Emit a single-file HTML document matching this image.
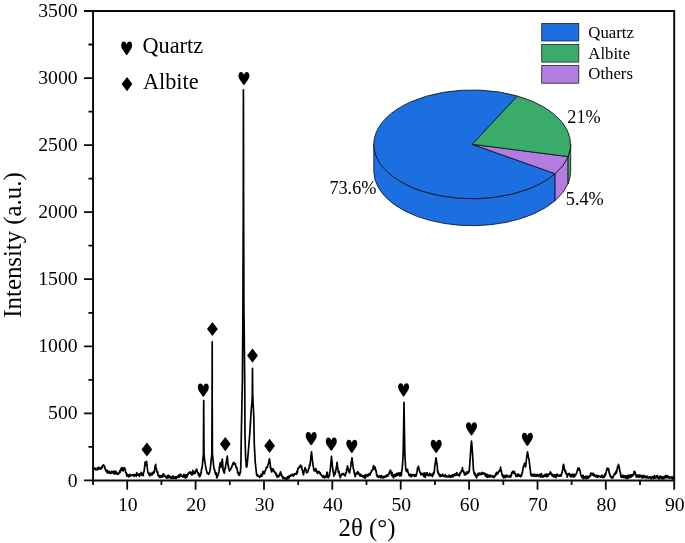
<!DOCTYPE html><html><head><meta charset="utf-8"><title>XRD</title><style>html,body{margin:0;padding:0;background:#fff}svg{display:block}text{font-family:"Liberation Serif",serif;fill:#000}</style></head><body>
<svg width="685" height="543" viewBox="0 0 685 543">
<rect width="685" height="543" fill="#fff"/>
<defs><path id="h" d="M0,6.6 C-0.6,6.6 -1.2,5.5 -2.4,3.6 C-3.6,1.8 -5.5,0 -5.5,-2.7 C-5.5,-5.2 -4.4,-6.6 -3,-6.6 C-1.6,-6.6 -0.5,-5.4 0,-3.6 C0.5,-5.4 1.6,-6.6 3,-6.6 C4.4,-6.6 5.5,-5.2 5.5,-2.7 C5.5,0 3.6,1.8 2.4,3.6 C1.2,5.5 0.6,6.6 0,6.6Z"/><path id="H" d="M0,6.8 C-0.6,6.8 -1.2,5.6 -2.4,3.7 C-3.6,1.9 -5.5,0 -5.5,-2.8 C-5.5,-5.3 -4.4,-6.8 -3,-6.8 C-1.6,-6.8 -0.5,-5.6 0,-3.7 C0.5,-5.6 1.6,-6.8 3,-6.8 C4.4,-6.8 5.5,-5.3 5.5,-2.8 C5.5,0 3.6,1.9 2.4,3.7 C1.2,5.6 0.6,6.8 0,6.8Z"/><path id="d" d="M0,-7.1 L5.4,0 L0,7.1 L-5.4,0Z"/></defs>
<path d="M93.5,468.9 L93.8,468.7 L94.1,469.2 L94.4,468.6 L94.7,468.5 L95.0,468.0 L95.0,468.7 L95.3,468.6 L95.6,469.7 L95.9,469.3 L96.2,469.8 L96.5,469.3 L96.8,469.5 L97.0,469.2 L97.1,469.3 L97.4,467.8 L97.7,469.7 L98.0,469.4 L98.3,469.3 L98.6,467.4 L98.9,467.3 L99.0,468.7 L99.2,468.0 L99.5,468.3 L99.8,468.9 L100.1,468.7 L100.4,469.1 L100.5,468.7 L100.7,467.9 L101.0,468.3 L101.3,468.0 L101.5,467.4 L101.6,466.8 L101.9,468.3 L102.2,467.0 L102.5,467.2 L102.5,466.2 L102.8,465.4 L103.1,465.0 L103.4,464.9 L103.6,465.0 L103.7,465.0 L104.0,466.0 L104.3,466.1 L104.3,465.9 L104.6,466.6 L104.9,467.3 L105.0,468.4 L105.2,468.4 L105.5,470.5 L105.8,469.6 L106.0,470.7 L106.1,471.0 L106.4,471.4 L106.7,470.2 L107.0,471.7 L107.3,473.0 L107.5,472.2 L107.6,470.6 L107.9,472.0 L108.2,472.3 L108.5,471.8 L108.8,472.9 L109.0,472.6 L109.1,472.5 L109.4,471.4 L109.7,473.2 L110.0,473.0 L110.3,473.2 L110.6,473.6 L110.9,472.7 L111.0,472.4 L111.2,472.5 L111.5,471.4 L111.8,473.0 L112.1,472.0 L112.4,472.2 L112.7,471.6 L113.0,471.8 L113.3,472.2 L113.6,473.7 L113.9,471.1 L114.0,472.7 L114.2,471.6 L114.5,473.0 L114.8,474.0 L115.1,473.4 L115.4,471.5 L115.7,471.1 L116.0,473.5 L116.3,472.6 L116.6,472.4 L116.9,474.2 L117.0,473.4 L117.2,474.2 L117.5,473.4 L117.8,473.4 L118.1,473.5 L118.4,474.3 L118.7,473.5 L119.0,473.3 L119.0,472.9 L119.3,472.9 L119.6,470.8 L119.9,472.7 L120.2,472.1 L120.5,471.3 L120.5,470.9 L120.8,468.9 L121.1,469.5 L121.4,470.2 L121.5,469.4 L121.7,467.6 L122.0,468.3 L122.2,468.0 L122.3,469.1 L122.6,467.9 L122.9,471.0 L123.2,470.8 L123.2,470.4 L123.5,469.6 L123.8,469.3 L124.1,468.8 L124.4,467.7 L124.4,467.6 L124.7,469.4 L125.0,468.8 L125.2,469.9 L125.3,469.9 L125.6,472.2 L125.9,472.5 L126.0,472.9 L126.2,472.7 L126.5,474.9 L126.8,476.1 L127.0,475.4 L127.1,475.1 L127.4,474.4 L127.7,475.5 L128.0,475.6 L128.3,475.6 L128.5,475.9 L128.6,477.0 L128.9,474.9 L129.2,476.6 L129.5,474.4 L129.8,474.7 L130.0,475.2 L130.1,475.7 L130.4,476.0 L130.7,475.8 L131.0,475.3 L131.3,475.1 L131.6,475.1 L131.9,475.3 L132.2,474.7 L132.5,475.0 L132.8,475.2 L133.0,474.7 L133.1,474.7 L133.4,475.3 L133.7,475.2 L134.0,476.4 L134.3,475.0 L134.6,474.5 L134.9,474.5 L135.2,474.8 L135.5,475.6 L135.8,474.6 L136.0,474.9 L136.1,475.2 L136.4,476.3 L136.7,472.7 L137.0,473.8 L137.3,474.9 L137.6,475.0 L137.9,474.8 L138.2,474.2 L138.5,475.0 L138.8,474.7 L139.0,474.4 L139.1,474.0 L139.4,476.4 L139.7,474.7 L140.0,474.0 L140.3,474.4 L140.6,474.3 L140.9,474.5 L141.2,472.4 L141.5,474.2 L141.8,475.4 L142.0,474.6 L142.1,473.7 L142.4,474.5 L142.7,475.3 L143.0,475.1 L143.3,475.6 L143.4,474.4 L143.6,472.2 L143.9,471.9 L144.2,470.6 L144.2,470.9 L144.5,468.1 L144.7,465.4 L144.8,466.0 L145.1,462.1 L145.2,463.9 L145.4,465.1 L145.7,463.6 L145.8,464.9 L146.0,464.4 L146.3,462.2 L146.4,461.7 L146.6,461.4 L146.9,464.1 L147.0,464.4 L147.2,467.4 L147.5,469.3 L147.6,470.4 L147.8,471.4 L148.1,473.2 L148.3,473.4 L148.4,473.5 L148.7,473.4 L149.0,474.8 L149.3,474.5 L149.5,473.7 L149.6,473.5 L149.9,476.0 L150.2,473.0 L150.5,474.7 L150.8,473.9 L151.1,474.3 L151.4,474.8 L151.7,474.5 L152.0,474.9 L152.0,474.4 L152.3,472.9 L152.6,472.6 L152.9,474.0 L153.2,472.4 L153.5,472.1 L153.8,471.4 L154.0,472.4 L154.1,472.9 L154.4,471.0 L154.7,470.1 L155.0,466.6 L155.3,465.9 L155.5,464.9 L155.6,464.4 L155.9,467.2 L156.2,469.2 L156.5,468.5 L156.8,471.8 L157.0,471.4 L157.1,472.5 L157.4,472.5 L157.7,471.9 L158.0,475.5 L158.3,475.2 L158.5,475.9 L158.6,475.4 L158.9,476.3 L159.2,476.4 L159.5,477.3 L159.8,475.3 L160.1,477.1 L160.4,477.5 L160.7,477.5 L161.0,476.3 L161.0,476.4 L161.3,475.7 L161.6,477.0 L161.9,476.2 L162.2,476.1 L162.5,477.0 L162.8,475.6 L163.1,473.9 L163.4,475.3 L163.7,474.0 L164.0,476.1 L164.0,475.4 L164.3,475.8 L164.6,475.2 L164.9,475.8 L165.2,476.7 L165.5,476.2 L165.8,477.4 L166.1,476.4 L166.4,477.4 L166.7,477.9 L167.0,478.2 L167.0,476.9 L167.3,476.4 L167.6,477.6 L167.9,475.4 L168.2,476.0 L168.5,475.3 L168.8,477.8 L169.1,475.9 L169.4,476.9 L169.7,476.7 L170.0,476.9 L170.0,476.9 L170.3,476.5 L170.6,477.2 L170.9,478.5 L171.2,477.1 L171.5,477.6 L171.8,478.0 L172.1,477.1 L172.4,476.3 L172.7,476.9 L173.0,478.3 L173.0,477.4 L173.3,476.1 L173.6,477.0 L173.9,478.4 L174.2,478.2 L174.5,477.7 L174.8,478.3 L175.1,477.9 L175.4,476.9 L175.7,476.6 L176.0,477.4 L176.0,477.9 L176.3,478.5 L176.6,477.2 L176.9,476.9 L177.2,476.9 L177.5,476.2 L177.8,477.2 L178.1,476.3 L178.4,477.4 L178.7,475.1 L179.0,477.2 L179.0,476.9 L179.3,476.2 L179.6,474.9 L179.9,476.8 L180.2,475.8 L180.5,474.0 L180.8,474.8 L181.0,475.4 L181.1,475.7 L181.4,475.1 L181.7,476.2 L182.0,476.2 L182.3,476.3 L182.6,476.1 L182.9,476.9 L183.0,475.9 L183.2,476.5 L183.5,476.4 L183.8,474.4 L184.1,476.9 L184.4,477.3 L184.7,476.1 L185.0,476.0 L185.0,476.4 L185.3,477.8 L185.6,474.7 L185.9,476.3 L186.2,477.7 L186.5,474.9 L186.8,476.1 L187.0,475.4 L187.1,476.8 L187.4,474.8 L187.7,475.0 L188.0,474.8 L188.3,473.0 L188.6,473.3 L188.9,473.2 L189.2,473.2 L189.5,472.2 L189.5,472.2 L189.8,472.3 L190.1,471.9 L190.4,472.6 L190.7,473.9 L191.0,473.5 L191.0,473.4 L191.3,472.6 L191.6,472.4 L191.9,475.1 L192.2,473.7 L192.5,473.2 L192.8,470.4 L193.0,472.4 L193.1,472.9 L193.4,472.9 L193.7,473.9 L194.0,473.0 L194.3,472.7 L194.6,473.2 L194.9,471.3 L195.0,472.9 L195.2,473.2 L195.5,471.9 L195.8,470.3 L196.1,471.2 L196.4,470.8 L196.4,469.4 L196.7,469.1 L197.0,470.5 L197.3,472.1 L197.5,472.4 L197.6,472.7 L197.9,472.6 L198.2,472.6 L198.5,475.5 L198.8,475.0 L199.1,473.6 L199.4,473.9 L199.7,476.8 L199.7,475.4 L200.0,475.7 L200.3,475.9 L200.6,474.7 L200.9,472.9 L201.0,473.4 L201.2,472.6 L201.5,469.2 L201.8,468.8 L202.0,468.4 L202.1,467.4 L202.4,464.8 L202.6,462.4 L202.7,461.4 L203.0,458.4 L203.3,455.4 L203.4,454.4 L203.6,418.4 L203.7,400.6 L203.9,436.2 L204.0,454.4 L204.2,456.2 L204.5,458.8 L204.8,461.5 L204.9,462.4 L205.1,462.9 L205.4,465.0 L205.7,467.1 L206.0,468.7 L206.0,468.4 L206.3,470.1 L206.6,471.0 L206.9,471.7 L207.0,472.4 L207.2,473.3 L207.5,473.1 L207.8,472.8 L208.1,473.4 L208.4,474.3 L208.5,474.4 L208.7,473.9 L209.0,473.6 L209.3,472.9 L209.6,472.5 L209.6,472.4 L209.9,470.7 L210.2,468.3 L210.3,468.8 L210.5,467.0 L210.8,464.3 L210.9,462.4 L211.1,460.7 L211.4,458.2 L211.7,455.7 L211.8,454.4 L212.0,418.8 L212.1,400.0 L212.2,341.8 L212.2,400.0 L212.3,418.8 L212.4,454.4 L212.6,455.8 L212.9,458.6 L213.2,461.5 L213.3,462.4 L213.5,464.6 L213.8,466.8 L214.0,468.8 L214.1,469.5 L214.4,469.5 L214.7,469.8 L215.0,472.4 L215.0,472.4 L215.3,472.3 L215.6,474.4 L215.9,473.6 L216.2,473.0 L216.5,475.0 L216.8,477.8 L217.1,476.9 L217.2,477.4 L217.4,475.7 L217.7,475.3 L218.0,475.4 L218.3,474.4 L218.5,473.4 L218.6,472.9 L218.9,471.9 L219.2,469.3 L219.5,466.7 L219.8,465.2 L220.1,464.0 L220.1,462.7 L220.4,465.0 L220.7,466.7 L221.0,466.5 L221.0,467.4 L221.3,465.4 L221.6,464.2 L221.9,461.7 L222.2,459.7 L222.3,459.1 L222.5,461.8 L222.8,465.5 L223.0,468.4 L223.1,469.7 L223.4,470.5 L223.7,471.9 L224.0,472.2 L224.0,472.4 L224.3,473.2 L224.6,471.0 L224.9,468.6 L225.2,467.7 L225.5,468.5 L225.5,466.4 L225.8,464.4 L226.1,463.7 L226.4,461.3 L226.7,459.6 L227.0,457.9 L227.3,456.2 L227.3,456.2 L227.6,459.6 L227.9,463.8 L228.2,466.4 L228.2,466.4 L228.5,466.4 L228.8,468.4 L229.1,469.5 L229.4,471.0 L229.5,470.4 L229.7,470.8 L230.0,469.8 L230.3,470.0 L230.6,469.4 L230.9,468.7 L231.0,468.4 L231.2,468.0 L231.5,467.2 L231.8,467.3 L232.1,465.4 L232.4,465.1 L232.7,465.0 L233.0,463.2 L233.0,464.4 L233.3,463.8 L233.6,462.4 L233.9,463.2 L234.2,464.0 L234.5,463.8 L234.7,463.2 L234.8,463.4 L235.1,463.9 L235.4,463.7 L235.7,467.0 L236.0,466.6 L236.3,467.8 L236.5,467.4 L236.6,467.1 L236.9,468.9 L237.2,468.7 L237.5,472.0 L237.8,473.3 L238.0,473.4 L238.1,472.0 L238.4,473.9 L238.7,474.8 L239.0,473.3 L239.3,473.7 L239.5,475.4 L239.6,474.2 L239.9,473.7 L240.2,472.2 L240.5,472.4 L240.5,472.4 L240.8,465.8 L240.9,463.4 L241.1,449.4 L241.3,435.0 L241.4,430.0 L241.7,415.0 L242.0,400.0 L242.0,400.0 L242.3,385.0 L242.4,380.0 L242.6,352.0 L242.9,310.0 L242.9,310.0 L243.2,227.5 L243.3,200.0 L243.4,89.8 L243.5,126.5 L243.6,200.0 L243.8,262.9 L243.9,310.0 L244.1,324.0 L244.4,352.0 L244.7,380.0 L244.7,380.0 L245.0,435.0 L245.0,435.0 L245.3,446.6 L245.5,454.1 L245.6,455.9 L245.9,461.4 L245.9,461.4 L246.2,465.3 L246.4,467.0 L246.5,467.2 L246.8,466.6 L247.1,465.1 L247.3,463.3 L247.4,462.2 L247.7,458.7 L248.0,455.3 L248.3,451.8 L248.6,448.4 L248.6,448.4 L248.9,444.5 L249.2,440.9 L249.5,437.4 L249.7,435.0 L249.8,433.4 L250.1,428.5 L250.4,423.6 L250.5,422.0 L250.7,418.6 L251.0,413.4 L251.2,410.0 L251.3,409.0 L251.6,406.0 L251.9,403.0 L252.0,402.0 L252.2,397.4 L252.3,394.0 L252.5,368.3 L252.5,368.3 L252.7,394.0 L252.8,396.2 L253.1,402.8 L253.2,405.0 L253.4,408.9 L253.7,414.8 L253.8,416.8 L254.0,427.9 L254.3,444.5 L254.3,444.5 L254.6,450.4 L254.9,455.9 L255.2,461.5 L255.3,463.3 L255.5,464.1 L255.8,467.5 L256.1,469.9 L256.4,472.6 L256.5,474.4 L256.7,474.6 L257.0,475.1 L257.3,475.9 L257.6,474.6 L257.9,475.3 L258.0,476.4 L258.2,476.4 L258.5,476.4 L258.8,476.4 L259.1,476.6 L259.4,476.1 L259.7,477.4 L260.0,477.2 L260.0,476.9 L260.3,476.7 L260.6,476.1 L260.9,476.3 L261.2,474.1 L261.5,475.4 L261.8,476.0 L262.0,475.9 L262.1,474.3 L262.4,474.7 L262.7,473.6 L263.0,471.3 L263.0,472.4 L263.3,472.4 L263.6,472.5 L263.9,473.4 L264.2,473.7 L264.5,473.4 L264.5,473.4 L264.8,471.7 L265.1,471.3 L265.4,470.3 L265.7,470.0 L266.0,468.6 L266.0,468.4 L266.3,467.6 L266.6,466.9 L266.9,467.5 L267.2,467.0 L267.5,466.5 L267.5,467.4 L267.8,466.1 L268.1,464.6 L268.4,463.9 L268.5,463.4 L268.7,462.9 L269.0,461.2 L269.3,459.8 L269.5,458.9 L269.6,459.6 L269.9,461.9 L270.2,463.8 L270.5,468.3 L270.5,466.4 L270.8,467.6 L271.1,470.3 L271.4,471.0 L271.5,471.4 L271.7,472.0 L272.0,468.8 L272.3,469.6 L272.6,470.0 L272.9,469.8 L273.2,470.8 L273.2,468.9 L273.5,469.7 L273.8,471.1 L274.1,471.3 L274.4,472.0 L274.7,472.2 L275.0,472.3 L275.0,472.4 L275.3,473.3 L275.6,472.5 L275.9,474.8 L276.2,473.6 L276.5,475.1 L276.5,474.9 L276.8,476.9 L277.1,475.3 L277.4,475.8 L277.7,477.0 L278.0,476.4 L278.3,476.1 L278.5,476.9 L278.6,476.9 L278.9,476.4 L279.2,475.7 L279.5,473.8 L279.8,475.1 L280.1,474.2 L280.4,472.2 L280.5,471.9 L280.7,472.7 L281.0,473.1 L281.3,475.4 L281.6,474.6 L281.9,476.6 L282.0,476.4 L282.2,476.2 L282.5,476.2 L282.8,477.6 L283.1,478.3 L283.4,477.4 L283.7,477.1 L284.0,478.5 L284.0,477.9 L284.3,478.0 L284.6,478.4 L284.9,479.0 L285.2,479.0 L285.5,478.2 L285.8,479.0 L286.0,478.9 L286.1,478.9 L286.4,479.0 L286.7,478.0 L287.0,478.4 L287.3,476.9 L287.6,479.0 L287.9,479.0 L288.0,477.9 L288.2,476.8 L288.5,476.3 L288.8,476.0 L289.1,478.0 L289.4,476.5 L289.7,476.6 L290.0,476.1 L290.0,476.4 L290.3,476.2 L290.6,475.2 L290.9,476.0 L291.2,474.6 L291.5,475.6 L291.8,475.7 L292.1,475.7 L292.4,475.0 L292.7,474.3 L293.0,475.0 L293.0,474.9 L293.3,474.4 L293.6,476.0 L293.9,475.2 L294.2,474.4 L294.5,474.0 L294.8,473.7 L295.1,473.5 L295.4,473.8 L295.7,474.2 L296.0,474.3 L296.0,473.9 L296.3,473.7 L296.6,474.2 L296.9,471.3 L297.2,471.2 L297.5,472.8 L297.8,468.4 L298.0,469.4 L298.1,468.8 L298.4,468.7 L298.7,468.1 L299.0,467.7 L299.3,466.6 L299.5,466.4 L299.6,466.7 L299.9,466.5 L300.2,467.2 L300.5,465.1 L300.8,466.0 L301.1,466.8 L301.4,466.0 L301.5,466.9 L301.7,466.8 L302.0,469.3 L302.3,469.4 L302.6,471.5 L302.9,472.7 L303.2,473.5 L303.5,474.8 L303.5,474.4 L303.8,473.0 L304.1,470.7 L304.4,470.5 L304.7,469.6 L305.0,467.5 L305.0,467.9 L305.3,468.5 L305.6,469.8 L305.9,469.2 L306.2,471.1 L306.5,472.8 L306.8,471.5 L307.0,472.4 L307.1,472.3 L307.4,471.5 L307.7,472.2 L308.0,470.7 L308.3,470.5 L308.6,468.6 L308.9,468.6 L309.0,468.4 L309.2,467.5 L309.5,464.7 L309.8,465.9 L310.1,464.0 L310.3,462.4 L310.4,461.5 L310.7,458.9 L311.0,456.2 L311.3,453.6 L311.5,451.8 L311.6,452.8 L311.9,455.7 L312.2,458.6 L312.5,461.5 L312.7,463.4 L312.8,462.5 L313.1,466.1 L313.4,467.1 L313.7,469.1 L314.0,470.7 L314.0,470.4 L314.3,469.0 L314.6,469.8 L314.9,471.0 L315.2,469.1 L315.5,468.6 L315.5,469.4 L315.8,468.7 L316.1,469.2 L316.4,470.9 L316.7,472.4 L317.0,471.7 L317.0,471.4 L317.3,471.7 L317.6,473.5 L317.9,471.4 L318.2,471.5 L318.5,472.6 L318.8,472.7 L319.0,472.4 L319.1,471.7 L319.4,471.9 L319.7,473.4 L320.0,473.8 L320.3,472.9 L320.6,474.1 L320.9,474.2 L321.2,475.3 L321.5,475.2 L321.8,475.6 L322.0,475.9 L322.1,475.6 L322.4,476.8 L322.7,477.2 L323.0,475.9 L323.3,476.9 L323.6,475.7 L323.9,476.4 L324.0,476.4 L324.2,477.1 L324.5,477.9 L324.8,476.5 L325.1,476.9 L325.4,477.3 L325.7,476.1 L326.0,477.4 L326.0,477.4 L326.3,475.5 L326.6,475.0 L326.9,472.4 L327.0,472.9 L327.2,472.2 L327.5,475.2 L327.8,476.7 L328.0,477.4 L328.1,476.8 L328.4,477.6 L328.7,476.2 L329.0,475.6 L329.3,476.0 L329.5,475.4 L329.6,473.3 L329.9,471.7 L330.2,469.8 L330.5,468.1 L330.5,467.4 L330.8,464.0 L331.1,460.8 L331.4,457.5 L331.5,456.4 L331.7,458.6 L332.0,461.9 L332.3,465.4 L332.5,467.4 L332.6,467.4 L332.9,469.8 L333.2,472.5 L333.5,472.2 L333.8,476.2 L334.0,475.4 L334.1,474.7 L334.4,474.6 L334.7,474.1 L335.0,474.2 L335.3,471.8 L335.5,472.4 L335.6,470.1 L335.9,470.2 L336.2,468.4 L336.5,466.2 L336.8,465.8 L337.0,462.4 L337.1,463.2 L337.4,465.3 L337.7,467.8 L338.0,469.4 L338.3,472.4 L338.5,472.4 L338.6,471.7 L338.9,473.2 L339.2,471.5 L339.5,475.7 L339.8,475.6 L340.0,476.4 L340.1,477.0 L340.4,477.7 L340.7,475.7 L341.0,475.2 L341.3,474.7 L341.5,474.9 L341.6,474.1 L341.9,474.0 L342.2,474.7 L342.5,473.9 L342.8,473.7 L343.0,473.4 L343.1,473.4 L343.4,474.5 L343.7,474.5 L344.0,474.3 L344.3,475.2 L344.6,474.9 L344.9,474.4 L345.0,475.4 L345.2,476.0 L345.5,474.4 L345.8,472.5 L346.1,473.3 L346.4,471.9 L346.5,471.4 L346.7,469.0 L347.0,469.9 L347.3,467.3 L347.5,465.9 L347.6,467.1 L347.9,467.9 L348.2,468.9 L348.5,469.2 L348.5,470.4 L348.8,471.9 L349.1,471.9 L349.4,472.4 L349.5,472.9 L349.7,472.2 L350.0,470.5 L350.3,469.4 L350.6,467.1 L350.8,466.4 L350.9,465.7 L351.2,461.9 L351.5,461.4 L351.8,459.3 L352.0,457.9 L352.1,458.7 L352.4,461.1 L352.7,463.1 L353.0,466.4 L353.2,467.4 L353.3,468.9 L353.6,468.9 L353.9,470.4 L354.2,473.1 L354.5,472.9 L354.8,475.1 L355.0,475.4 L355.1,476.6 L355.4,474.9 L355.7,475.4 L356.0,473.4 L356.3,473.7 L356.6,473.1 L356.9,472.8 L357.2,473.2 L357.5,473.8 L357.5,471.9 L357.8,471.8 L358.1,472.3 L358.4,473.6 L358.7,472.7 L359.0,474.4 L359.3,474.9 L359.6,474.6 L359.9,475.7 L360.0,475.4 L360.2,474.2 L360.5,476.1 L360.8,474.3 L361.1,475.1 L361.4,475.2 L361.7,475.4 L362.0,476.5 L362.3,475.9 L362.5,475.9 L362.6,475.6 L362.9,476.4 L363.2,477.3 L363.5,476.1 L363.8,476.5 L364.1,477.2 L364.4,476.5 L364.7,475.3 L365.0,478.4 L365.0,476.4 L365.3,478.0 L365.6,474.6 L365.9,476.0 L366.2,476.3 L366.5,476.6 L366.8,476.2 L367.1,475.3 L367.4,474.6 L367.5,475.4 L367.7,475.4 L368.0,476.1 L368.3,474.4 L368.6,474.4 L368.9,475.1 L369.2,473.5 L369.5,474.8 L369.8,474.6 L370.0,474.9 L370.1,475.0 L370.4,473.4 L370.7,472.6 L371.0,472.3 L371.3,471.8 L371.5,471.4 L371.6,470.6 L371.9,470.5 L372.2,470.4 L372.5,470.0 L372.8,469.7 L373.0,467.9 L373.1,467.2 L373.4,467.5 L373.7,465.7 L374.0,469.2 L374.3,467.0 L374.6,467.5 L374.9,467.8 L375.0,467.4 L375.2,467.1 L375.5,469.8 L375.8,470.6 L376.0,471.4 L376.1,470.4 L376.4,473.4 L376.7,475.5 L377.0,474.4 L377.0,475.9 L377.3,476.6 L377.6,476.2 L377.9,476.4 L378.2,476.5 L378.5,477.2 L378.8,476.0 L379.1,476.9 L379.4,476.0 L379.7,476.9 L380.0,475.7 L380.0,476.4 L380.3,476.4 L380.6,477.9 L380.9,476.9 L381.2,476.5 L381.5,475.7 L381.8,476.1 L382.1,476.9 L382.4,477.6 L382.7,477.2 L383.0,477.3 L383.0,476.9 L383.3,476.8 L383.6,477.9 L383.9,476.4 L384.2,476.3 L384.5,477.4 L384.8,476.7 L385.1,476.3 L385.4,476.0 L385.7,476.2 L386.0,476.9 L386.0,476.4 L386.3,476.5 L386.6,475.1 L386.9,476.3 L387.2,475.9 L387.5,474.8 L387.8,476.1 L388.0,475.4 L388.1,475.0 L388.4,474.3 L388.7,474.6 L389.0,474.5 L389.3,472.2 L389.5,472.4 L389.6,472.6 L389.9,470.9 L390.2,472.9 L390.5,470.0 L390.5,470.4 L390.8,472.3 L391.1,471.7 L391.4,473.7 L391.5,473.4 L391.7,475.6 L392.0,472.4 L392.3,474.7 L392.6,476.0 L392.9,476.1 L393.0,476.4 L393.2,475.8 L393.5,477.9 L393.8,476.1 L394.1,474.6 L394.4,476.5 L394.7,474.3 L395.0,476.5 L395.3,475.0 L395.5,475.4 L395.6,475.5 L395.9,476.2 L396.2,475.1 L396.5,473.7 L396.8,473.3 L397.1,475.4 L397.4,474.9 L397.7,473.4 L398.0,474.6 L398.0,473.9 L398.3,474.5 L398.6,474.9 L398.9,472.8 L399.2,474.6 L399.5,475.7 L399.8,475.8 L400.0,475.4 L400.1,476.0 L400.4,472.9 L400.7,474.6 L401.0,474.5 L401.3,475.7 L401.5,473.4 L401.6,471.9 L401.9,470.3 L402.2,468.4 L402.2,468.4 L402.5,464.8 L402.8,459.7 L403.1,455.4 L403.1,455.4 L403.4,440.0 L403.6,430.0 L403.7,423.1 L404.0,402.4 L404.0,402.4 L404.3,423.1 L404.4,430.0 L404.6,440.0 L404.9,455.4 L404.9,455.4 L405.2,460.3 L405.5,464.8 L405.7,468.4 L405.8,469.7 L406.1,469.3 L406.4,471.2 L406.5,471.4 L406.7,470.8 L407.0,471.0 L407.3,470.0 L407.5,470.4 L407.6,469.4 L407.9,472.5 L408.2,472.7 L408.5,473.0 L408.8,474.5 L409.0,474.9 L409.1,475.7 L409.4,474.3 L409.7,475.2 L410.0,475.8 L410.3,476.0 L410.6,475.4 L410.9,474.2 L411.0,475.9 L411.2,476.8 L411.5,476.0 L411.8,475.7 L412.1,475.4 L412.4,475.8 L412.7,475.1 L413.0,474.6 L413.0,475.4 L413.3,474.9 L413.6,475.1 L413.9,475.1 L414.2,474.8 L414.5,476.3 L414.8,474.8 L415.0,475.9 L415.1,476.3 L415.4,474.7 L415.7,475.5 L416.0,476.0 L416.3,474.8 L416.5,474.4 L416.6,473.3 L416.9,472.4 L417.2,471.0 L417.5,468.0 L417.5,469.4 L417.8,468.0 L418.1,467.7 L418.4,466.3 L418.5,466.4 L418.7,467.3 L419.0,469.0 L419.3,470.2 L419.5,470.4 L419.6,471.4 L419.9,472.1 L420.2,472.3 L420.5,473.4 L420.8,474.1 L421.0,474.9 L421.1,474.6 L421.4,474.7 L421.7,473.3 L422.0,474.4 L422.3,474.6 L422.6,473.7 L422.9,474.4 L423.0,474.4 L423.2,474.9 L423.5,474.5 L423.8,476.5 L424.1,472.9 L424.4,474.9 L424.7,473.8 L425.0,476.2 L425.0,475.4 L425.3,477.4 L425.6,473.1 L425.9,475.1 L426.2,475.2 L426.5,474.4 L426.8,474.9 L427.0,474.4 L427.1,472.7 L427.4,475.3 L427.7,475.0 L428.0,474.9 L428.3,474.6 L428.6,475.7 L428.9,475.0 L429.0,475.4 L429.2,475.5 L429.5,474.9 L429.8,473.4 L430.1,475.1 L430.4,475.2 L430.7,475.6 L431.0,474.2 L431.0,474.9 L431.3,474.9 L431.6,475.4 L431.9,475.0 L432.2,475.9 L432.5,476.5 L432.8,474.2 L433.0,474.9 L433.1,473.1 L433.4,474.5 L433.7,474.2 L434.0,472.9 L434.3,472.1 L434.3,471.4 L434.6,468.2 L434.9,465.5 L435.2,464.1 L435.2,463.4 L435.5,461.3 L435.8,459.3 L436.0,457.9 L436.1,458.6 L436.4,460.6 L436.7,462.0 L436.8,463.4 L437.0,463.5 L437.3,466.5 L437.6,471.6 L437.7,470.4 L437.9,472.8 L438.2,472.0 L438.5,473.3 L438.5,473.9 L438.8,474.4 L439.1,473.9 L439.4,475.8 L439.7,475.0 L440.0,474.5 L440.0,475.4 L440.3,476.5 L440.6,475.0 L440.9,475.7 L441.2,475.6 L441.5,475.4 L441.8,476.0 L442.1,475.2 L442.4,474.3 L442.7,474.1 L443.0,474.9 L443.0,475.9 L443.3,475.3 L443.6,476.0 L443.9,476.1 L444.2,476.5 L444.5,476.2 L444.8,475.6 L445.1,475.7 L445.4,474.6 L445.7,476.2 L446.0,476.8 L446.0,476.4 L446.3,476.8 L446.6,476.2 L446.9,476.1 L447.2,476.9 L447.5,476.2 L447.8,476.7 L448.1,476.5 L448.4,476.2 L448.7,477.0 L449.0,475.4 L449.0,475.9 L449.3,475.6 L449.6,475.3 L449.9,475.3 L450.2,477.1 L450.5,477.3 L450.8,475.9 L451.1,476.4 L451.4,476.8 L451.7,476.5 L452.0,476.9 L452.0,475.9 L452.3,474.8 L452.6,475.1 L452.9,475.9 L453.2,476.6 L453.5,475.4 L453.8,474.5 L454.1,474.8 L454.4,474.4 L454.5,474.9 L454.7,474.1 L455.0,475.7 L455.3,473.8 L455.6,474.0 L455.9,475.5 L456.2,474.5 L456.5,473.6 L456.8,472.6 L457.0,472.9 L457.1,473.4 L457.4,474.7 L457.7,474.3 L458.0,475.2 L458.3,474.6 L458.6,475.3 L458.9,475.1 L459.0,475.4 L459.2,475.5 L459.5,475.8 L459.8,473.2 L460.1,473.9 L460.4,473.7 L460.5,473.4 L460.7,472.3 L461.0,471.7 L461.3,471.6 L461.5,470.4 L461.6,471.9 L461.9,470.3 L462.2,469.6 L462.5,467.7 L462.5,468.9 L462.8,471.2 L463.1,470.5 L463.4,471.1 L463.5,471.4 L463.7,471.2 L464.0,473.1 L464.3,473.3 L464.5,474.9 L464.6,474.9 L464.9,474.9 L465.2,474.2 L465.5,474.1 L465.8,472.9 L466.0,473.4 L466.1,474.5 L466.4,472.9 L466.7,471.9 L467.0,473.2 L467.3,472.8 L467.6,472.6 L467.9,473.1 L468.0,473.4 L468.2,473.2 L468.5,471.3 L468.8,471.4 L469.1,472.0 L469.3,470.4 L469.4,469.6 L469.7,464.9 L470.0,461.1 L470.2,458.4 L470.3,456.8 L470.6,452.1 L470.9,447.4 L470.9,447.4 L471.2,444.0 L471.5,441.0 L471.5,441.0 L471.8,444.0 L472.1,447.4 L472.1,447.4 L472.4,452.1 L472.7,456.8 L472.8,458.4 L473.0,461.8 L473.3,467.1 L473.5,470.4 L473.6,470.7 L473.9,472.0 L474.2,473.8 L474.5,474.3 L474.5,474.4 L474.8,472.9 L475.1,475.2 L475.4,474.9 L475.7,476.5 L476.0,475.9 L476.0,476.4 L476.3,476.4 L476.6,477.8 L476.9,475.1 L477.2,474.9 L477.5,474.5 L477.8,473.6 L478.0,475.4 L478.1,473.8 L478.4,475.4 L478.7,474.4 L479.0,473.2 L479.3,473.2 L479.6,474.7 L479.9,473.4 L480.0,473.9 L480.2,473.5 L480.5,473.8 L480.8,474.4 L481.1,474.6 L481.4,473.7 L481.7,472.7 L482.0,472.5 L482.0,472.4 L482.3,474.1 L482.6,474.0 L482.9,472.8 L483.2,473.7 L483.5,473.8 L483.8,473.8 L484.0,473.9 L484.1,473.6 L484.4,473.1 L484.7,474.0 L485.0,473.4 L485.3,475.9 L485.6,475.5 L485.9,474.4 L486.0,475.4 L486.2,476.6 L486.5,476.2 L486.8,474.1 L487.1,477.1 L487.4,476.4 L487.7,477.5 L488.0,474.9 L488.0,475.9 L488.3,476.4 L488.6,476.3 L488.9,476.2 L489.2,476.2 L489.5,477.0 L489.8,475.0 L490.1,475.3 L490.4,475.2 L490.7,475.9 L491.0,475.9 L491.0,476.4 L491.3,476.7 L491.6,476.6 L491.9,476.4 L492.2,475.9 L492.5,476.0 L492.8,477.2 L493.1,477.0 L493.4,476.5 L493.7,476.1 L494.0,477.6 L494.0,476.4 L494.3,475.6 L494.6,476.3 L494.9,476.4 L495.2,475.0 L495.5,475.6 L495.5,474.9 L495.8,473.7 L496.1,475.1 L496.4,474.2 L496.7,472.4 L497.0,473.9 L497.0,473.4 L497.3,472.5 L497.6,474.0 L497.9,472.3 L498.2,472.5 L498.5,472.6 L498.5,472.4 L498.8,471.5 L499.1,471.4 L499.4,470.2 L499.5,470.4 L499.7,470.6 L500.0,469.7 L500.3,469.4 L500.5,468.9 L500.6,467.0 L500.9,471.2 L501.2,471.4 L501.5,471.0 L501.5,472.4 L501.8,473.4 L502.1,474.6 L502.4,476.0 L502.5,475.4 L502.7,474.6 L503.0,476.8 L503.3,475.6 L503.6,477.8 L503.9,475.8 L504.2,476.6 L504.5,475.9 L504.8,475.4 L505.0,476.4 L505.1,477.3 L505.4,477.1 L505.7,477.6 L506.0,477.1 L506.3,475.9 L506.6,475.1 L506.9,475.9 L507.2,475.9 L507.5,475.7 L507.8,476.9 L508.0,476.4 L508.1,476.7 L508.4,476.2 L508.7,476.5 L509.0,476.3 L509.3,476.6 L509.6,477.0 L509.9,477.2 L510.2,475.9 L510.5,475.2 L510.5,476.4 L510.8,476.9 L511.1,475.3 L511.4,475.5 L511.7,472.7 L512.0,473.1 L512.0,473.4 L512.3,473.0 L512.6,471.4 L512.9,471.8 L513.2,472.4 L513.5,472.3 L513.5,471.4 L513.8,473.1 L514.1,471.5 L514.4,471.5 L514.7,473.4 L515.0,474.2 L515.0,473.4 L515.3,474.3 L515.6,473.9 L515.9,476.3 L516.0,475.9 L516.2,476.5 L516.5,476.2 L516.8,475.3 L517.1,475.9 L517.4,476.2 L517.7,475.0 L518.0,473.9 L518.0,475.4 L518.3,475.7 L518.6,475.8 L518.9,475.4 L519.2,476.1 L519.5,474.9 L519.8,475.3 L520.1,475.2 L520.4,475.9 L520.7,476.7 L521.0,475.2 L521.0,475.4 L521.3,476.2 L521.6,475.0 L521.9,473.6 L522.2,472.7 L522.5,472.8 L522.5,471.4 L522.8,469.8 L523.1,468.3 L523.4,466.0 L523.5,466.4 L523.7,466.2 L524.0,466.0 L524.3,464.4 L524.5,463.4 L524.6,464.1 L524.9,464.6 L525.2,466.0 L525.5,465.8 L525.5,466.9 L525.8,465.3 L526.1,462.0 L526.3,460.4 L526.4,459.7 L526.7,457.6 L527.0,455.4 L527.3,453.3 L527.5,451.9 L527.6,452.5 L527.9,454.1 L528.2,455.8 L528.3,456.4 L528.5,457.3 L528.8,458.5 L529.0,459.4 L529.1,460.3 L529.4,462.7 L529.7,464.8 L530.0,467.8 L530.0,468.4 L530.3,469.7 L530.6,473.0 L530.9,475.1 L531.0,474.9 L531.2,473.9 L531.5,475.9 L531.8,476.0 L532.1,475.0 L532.4,474.4 L532.7,475.2 L533.0,475.4 L533.0,475.9 L533.3,476.1 L533.6,475.5 L533.9,474.1 L534.2,475.9 L534.5,474.4 L534.8,476.3 L535.1,474.6 L535.4,474.9 L535.7,474.8 L536.0,475.0 L536.0,475.4 L536.3,476.5 L536.6,476.2 L536.9,476.0 L537.2,475.9 L537.5,474.4 L537.8,475.3 L538.1,475.3 L538.4,475.0 L538.7,476.3 L539.0,475.3 L539.0,475.9 L539.3,475.3 L539.6,475.1 L539.9,474.3 L540.2,476.4 L540.5,477.0 L540.8,476.0 L541.1,475.1 L541.4,473.7 L541.7,476.0 L542.0,476.9 L542.0,475.9 L542.3,476.1 L542.6,476.6 L542.9,477.1 L543.2,476.8 L543.5,475.5 L543.8,476.7 L544.1,476.5 L544.4,474.7 L544.7,475.6 L545.0,474.8 L545.0,475.9 L545.3,475.7 L545.6,476.2 L545.9,474.8 L546.2,474.0 L546.5,476.6 L546.8,475.8 L547.0,475.4 L547.1,476.5 L547.4,474.0 L547.7,475.7 L548.0,476.3 L548.3,476.0 L548.6,474.0 L548.9,474.2 L549.0,473.9 L549.2,473.6 L549.5,474.4 L549.8,474.2 L550.1,473.2 L550.4,471.9 L550.5,472.9 L550.7,473.7 L551.0,473.0 L551.3,474.2 L551.6,474.2 L551.9,475.6 L552.0,474.4 L552.2,475.5 L552.5,474.4 L552.8,475.3 L553.1,476.6 L553.4,475.0 L553.7,476.0 L554.0,476.9 L554.0,475.9 L554.3,476.9 L554.6,476.2 L554.9,474.7 L555.2,474.7 L555.5,475.8 L555.8,475.9 L556.1,477.6 L556.4,474.8 L556.7,476.4 L557.0,476.0 L557.0,475.4 L557.3,474.1 L557.6,474.8 L557.9,475.7 L558.2,475.2 L558.5,475.5 L558.8,476.1 L559.1,475.1 L559.4,476.2 L559.7,475.3 L560.0,475.5 L560.0,475.9 L560.3,476.0 L560.6,474.8 L560.9,475.2 L561.2,476.0 L561.5,474.4 L561.5,474.4 L561.8,473.1 L562.1,472.6 L562.4,470.5 L562.5,470.4 L562.7,470.1 L563.0,466.4 L563.3,466.1 L563.5,464.4 L563.6,464.5 L563.9,465.8 L564.2,469.3 L564.3,468.4 L564.5,468.3 L564.8,471.2 L565.0,470.4 L565.1,471.1 L565.4,472.4 L565.7,471.0 L566.0,473.4 L566.0,472.4 L566.3,474.5 L566.6,474.1 L566.9,475.0 L567.0,475.4 L567.2,477.2 L567.5,475.0 L567.8,474.3 L568.1,473.8 L568.4,474.4 L568.7,474.0 L569.0,473.5 L569.0,473.4 L569.3,475.2 L569.6,473.9 L569.9,475.0 L570.2,476.2 L570.5,474.6 L570.5,475.4 L570.8,476.3 L571.1,477.0 L571.4,474.5 L571.7,474.8 L572.0,474.9 L572.3,474.3 L572.6,476.2 L572.9,474.4 L573.0,475.9 L573.2,476.3 L573.5,477.1 L573.8,474.6 L574.1,475.6 L574.4,474.4 L574.7,476.5 L575.0,475.3 L575.0,475.9 L575.3,475.2 L575.6,474.9 L575.9,474.8 L576.2,473.6 L576.5,473.4 L576.5,473.4 L576.8,472.1 L577.1,471.7 L577.4,469.8 L577.5,470.4 L577.7,470.1 L578.0,467.9 L578.3,468.4 L578.5,468.4 L578.6,470.1 L578.9,469.1 L579.2,468.4 L579.5,470.1 L579.5,469.9 L579.8,470.2 L580.1,470.7 L580.4,472.5 L580.5,473.4 L580.7,474.6 L581.0,475.2 L581.3,475.7 L581.5,476.4 L581.6,475.7 L581.9,475.7 L582.2,477.8 L582.5,477.0 L582.8,476.2 L583.1,475.4 L583.4,476.1 L583.7,479.0 L584.0,476.5 L584.0,477.4 L584.3,477.3 L584.6,477.6 L584.9,477.3 L585.2,477.2 L585.5,476.3 L585.8,476.6 L586.0,477.4 L586.1,478.8 L586.4,476.8 L586.7,478.1 L587.0,476.0 L587.3,477.2 L587.6,477.6 L587.9,478.2 L588.0,477.4 L588.2,476.4 L588.5,477.6 L588.8,477.3 L589.1,476.3 L589.4,477.1 L589.7,475.8 L590.0,475.8 L590.0,476.4 L590.3,476.0 L590.6,473.4 L590.9,475.1 L591.2,474.0 L591.5,473.2 L591.5,474.4 L591.8,473.9 L592.1,474.7 L592.4,473.6 L592.5,473.9 L592.7,475.0 L593.0,473.3 L593.3,473.4 L593.6,475.9 L593.9,475.2 L594.0,474.9 L594.2,475.8 L594.5,474.5 L594.8,475.9 L595.1,475.7 L595.4,476.1 L595.7,475.8 L596.0,476.9 L596.0,475.9 L596.3,475.5 L596.6,475.4 L596.9,475.2 L597.2,477.4 L597.5,476.1 L597.8,476.0 L598.0,476.9 L598.1,476.1 L598.4,476.5 L598.7,475.9 L599.0,476.7 L599.3,476.4 L599.6,476.5 L599.9,476.1 L600.2,476.9 L600.5,476.5 L600.8,477.0 L601.0,476.9 L601.1,477.1 L601.4,477.2 L601.7,475.1 L602.0,476.5 L602.3,476.3 L602.6,477.5 L602.9,475.6 L603.2,476.3 L603.5,476.7 L603.8,476.6 L604.0,476.9 L604.1,477.5 L604.4,475.9 L604.7,476.5 L605.0,474.1 L605.3,473.3 L605.5,474.4 L605.6,475.0 L605.9,473.1 L606.2,472.0 L606.5,470.5 L606.5,470.4 L606.8,470.2 L607.1,468.2 L607.4,469.4 L607.5,468.4 L607.7,468.3 L608.0,469.9 L608.3,469.7 L608.5,469.9 L608.6,468.7 L608.9,470.3 L609.2,473.3 L609.5,473.3 L609.5,473.4 L609.8,474.1 L610.1,475.7 L610.4,476.2 L610.5,476.9 L610.7,476.4 L611.0,476.9 L611.3,476.9 L611.6,477.9 L611.9,476.7 L612.2,478.1 L612.5,477.9 L612.8,477.8 L613.0,476.4 L613.1,477.1 L613.4,476.0 L613.7,475.6 L614.0,475.0 L614.3,474.1 L614.5,474.4 L614.6,474.1 L614.9,473.1 L615.2,474.3 L615.5,472.8 L615.5,472.4 L615.8,472.2 L616.1,471.2 L616.4,472.8 L616.5,472.9 L616.7,471.7 L617.0,469.8 L617.3,468.4 L617.5,468.4 L617.6,466.2 L617.9,467.3 L618.2,465.5 L618.5,466.5 L618.5,464.4 L618.8,465.5 L619.1,466.5 L619.3,467.4 L619.4,469.1 L619.7,469.8 L620.0,471.5 L620.0,471.4 L620.3,472.5 L620.6,473.6 L620.9,476.6 L621.0,475.9 L621.2,476.8 L621.5,477.4 L621.8,475.8 L622.1,476.2 L622.4,475.5 L622.7,477.1 L623.0,475.3 L623.0,476.4 L623.3,476.9 L623.6,477.4 L623.9,477.7 L624.2,475.8 L624.5,477.5 L624.8,476.1 L625.1,476.1 L625.4,475.7 L625.7,477.8 L626.0,478.2 L626.0,476.9 L626.3,476.4 L626.6,476.2 L626.9,476.5 L627.2,478.7 L627.5,477.5 L627.8,476.2 L628.1,475.1 L628.4,476.0 L628.7,477.4 L629.0,477.9 L629.0,476.4 L629.3,476.2 L629.6,475.8 L629.9,476.0 L630.2,474.9 L630.5,477.1 L630.8,475.5 L631.0,476.4 L631.1,477.2 L631.4,474.8 L631.7,475.0 L632.0,476.1 L632.3,475.1 L632.6,476.2 L632.9,475.5 L633.0,475.4 L633.2,474.1 L633.5,474.9 L633.8,474.5 L634.0,473.4 L634.1,471.5 L634.4,473.3 L634.5,471.4 L634.7,472.4 L635.0,473.6 L635.3,472.4 L635.3,473.9 L635.6,474.1 L635.9,475.1 L636.2,477.0 L636.5,475.7 L636.5,476.9 L636.8,476.1 L637.1,475.1 L637.4,476.4 L637.7,476.8 L638.0,475.1 L638.0,476.4 L638.3,475.9 L638.6,476.7 L638.9,477.4 L639.2,476.6 L639.5,475.8 L639.8,475.0 L640.0,475.9 L640.1,475.2 L640.4,475.5 L640.7,476.3 L641.0,476.2 L641.3,477.7 L641.6,476.7 L641.9,475.7 L642.2,477.9 L642.5,477.5 L642.8,476.9 L643.0,476.9 L643.1,476.3 L643.4,475.4 L643.7,476.1 L644.0,477.6 L644.3,476.3 L644.6,475.8 L644.9,477.1 L645.2,477.1 L645.5,477.4 L645.8,477.4 L646.0,476.9 L646.1,478.0 L646.4,476.3 L646.7,477.8 L647.0,476.2 L647.3,477.6 L647.6,477.2 L647.9,477.3 L648.2,477.9 L648.5,477.2 L648.8,478.1 L649.1,478.0 L649.4,477.4 L649.7,476.9 L650.0,476.8 L650.0,477.4 L650.3,477.0 L650.6,477.2 L650.9,477.4 L651.2,479.0 L651.5,477.9 L651.8,478.0 L652.1,476.7 L652.4,476.8 L652.7,477.1 L653.0,477.6 L653.3,476.6 L653.6,478.7 L653.9,476.9 L654.2,478.3 L654.5,475.5 L654.8,477.4 L655.0,477.4 L655.1,477.6 L655.4,477.6 L655.7,477.9 L656.0,477.6 L656.3,477.5 L656.6,475.9 L656.9,476.8 L657.2,475.5 L657.5,477.9 L657.8,477.6 L658.1,477.2 L658.4,476.7 L658.7,476.9 L659.0,478.9 L659.3,478.8 L659.6,477.4 L659.9,478.4 L660.0,477.4 L660.2,476.1 L660.5,475.9 L660.8,477.0 L661.1,476.7 L661.4,477.0 L661.7,477.6 L662.0,479.0 L662.3,476.9 L662.6,477.4 L662.9,477.6 L663.2,477.4 L663.5,478.1 L663.8,478.8 L664.1,476.4 L664.4,477.5 L664.7,477.2 L665.0,477.7 L665.0,477.4 L665.3,476.2 L665.6,476.0 L665.9,475.5 L666.2,477.8 L666.5,477.6 L666.8,477.5 L667.1,475.5 L667.4,477.1 L667.7,476.8 L668.0,476.3 L668.3,476.7 L668.6,478.0 L668.9,477.8 L669.2,477.4 L669.5,477.8 L669.8,476.9 L670.0,477.4 L670.1,477.5 L670.4,477.4 L670.7,477.8 L671.0,477.3 L671.3,477.3 L671.6,477.3 L671.9,476.9 L672.2,479.0 L672.5,477.8 L672.8,477.7 L673.1,479.0 L673.4,478.5 L673.7,476.2 L674.0,478.0 L674.0,477.4" fill="none" stroke="#000" stroke-width="1.7" stroke-linejoin="round"/>
<path d="M93.05,480.4 V11 H674.2 V480.4 Z" fill="none" stroke="#0a0a0a" stroke-width="1.95"/>
<path d="M93.05,480.4h-9.1 M93.05,446.9h-4.6 M93.05,413.3h-9.1 M93.05,379.8h-4.6 M93.05,346.3h-9.1 M93.05,312.8h-4.6 M93.05,279.2h-9.1 M93.05,245.7h-4.6 M93.05,212.2h-9.1 M93.05,178.6h-4.6 M93.05,145.1h-9.1 M93.05,111.6h-4.6 M93.05,78.1h-9.1 M93.05,44.5h-4.6 M93.05,11.0h-9.1 M93.0,480.4v4.6 M127.2,480.4v9.3 M161.4,480.4v4.6 M195.6,480.4v9.3 M229.8,480.4v4.6 M264.0,480.4v9.3 M298.2,480.4v4.6 M332.3,480.4v9.3 M366.5,480.4v4.6 M400.7,480.4v9.3 M434.9,480.4v4.6 M469.1,480.4v9.3 M503.3,480.4v4.6 M537.5,480.4v9.3 M571.6,480.4v4.6 M605.8,480.4v9.3 M640.0,480.4v4.6 M674.2,480.4v9.3" stroke="#0a0a0a" stroke-width="1.8" fill="none"/>
<g font-size="19.7">
<text x="77.6" y="486.5" text-anchor="end">0</text>
<text x="77.6" y="419.4" text-anchor="end">500</text>
<text x="77.6" y="352.4" text-anchor="end">1000</text>
<text x="77.6" y="285.3" text-anchor="end">1500</text>
<text x="77.6" y="218.3" text-anchor="end">2000</text>
<text x="77.6" y="151.2" text-anchor="end">2500</text>
<text x="77.6" y="84.2" text-anchor="end">3000</text>
<text x="77.6" y="17.1" text-anchor="end">3500</text>
<text x="127.8" y="511" text-anchor="middle">10</text>
<text x="196.2" y="511" text-anchor="middle">20</text>
<text x="264.6" y="511" text-anchor="middle">30</text>
<text x="332.9" y="511" text-anchor="middle">40</text>
<text x="401.3" y="511" text-anchor="middle">50</text>
<text x="469.7" y="511" text-anchor="middle">60</text>
<text x="538.1" y="511" text-anchor="middle">70</text>
<text x="606.4" y="511" text-anchor="middle">80</text>
<text x="674.8" y="511" text-anchor="middle">90</text>
</g>
<text font-size="24.8" x="367" y="536" text-anchor="middle">2θ (°)</text>
<text font-size="24.8" transform="translate(20.9,245) rotate(-90)" text-anchor="middle">Intensity (a.u.)</text>
<use href="#H" x="126.65" y="48.3"/>
<use href="#h" x="243.9" y="78.5"/>
<use href="#h" x="203.3" y="390.2"/>
<use href="#h" x="403.6" y="389.8"/>
<use href="#h" x="311.2" y="438.7"/>
<use href="#h" x="331.3" y="444.1"/>
<use href="#h" x="351.8" y="446.3"/>
<use href="#h" x="436.2" y="446.4"/>
<use href="#h" x="471.5" y="428.8"/>
<use href="#h" x="527.4" y="439.3"/>
<use href="#d" x="127" y="84.1"/>
<use href="#d" x="212.4" y="329"/>
<use href="#d" x="252.5" y="355.6"/>
<use href="#d" x="225.3" y="444.1"/>
<use href="#d" x="269.6" y="445.8"/>
<use href="#d" x="146.9" y="449.5"/>
<g font-size="22.3"><text x="142.4" y="52.7">Quartz</text><text x="142.9" y="89.4">Albite</text></g>
<path d="M373.8,144.3 A98.45,54.4 0 0 0 555.1,173.7 L555.1,200.7 A98.45,54.4 0 0 1 373.8,171.3 Z" fill="#1b6fe0" stroke="#0a0a14" stroke-width="0.8" stroke-linejoin="round"/>
<path d="M555.1,173.7 A98.45,54.4 0 0 0 568.1,156.6 L568.1,183.6 A98.45,54.4 0 0 1 555.1,200.7 Z" fill="#b37ce0" stroke="#0a0a14" stroke-width="0.8" stroke-linejoin="round"/>
<path d="M568.1,156.6 A98.45,54.4 0 0 0 570.7,144.3 L570.7,171.3 A98.45,54.4 0 0 1 568.1,183.6 Z" fill="#3aab6b" stroke="#0a0a14" stroke-width="0.8" stroke-linejoin="round"/>
<path d="M472.25,144.3 L517.4,96.0 A98.45,54.4 0 1 0 555.1,173.7 Z" fill="#1b6fe0" stroke="#0a0a14" stroke-width="0.8" stroke-linejoin="round"/>
<path d="M472.25,144.3 L555.1,173.7 A98.45,54.4 0 0 0 568.1,156.6 Z" fill="#b37ce0" stroke="#0a0a14" stroke-width="0.8" stroke-linejoin="round"/>
<path d="M472.25,144.3 L568.1,156.6 A98.45,54.4 0 0 0 517.4,96.0 Z" fill="#3aab6b" stroke="#0a0a14" stroke-width="0.8" stroke-linejoin="round"/>
<g font-size="18.2"><text x="567.3" y="123.3">21%</text><text x="565.8" y="204.9">5.4%</text><text x="329.4" y="194.3">73.6%</text></g>
<rect x="541.7" y="23.4" width="37.1" height="17.6" fill="#1b6fe0" stroke="#222" stroke-width="0.8"/>
<text font-size="16.75" x="588.3" y="37.8">Quartz</text>
<rect x="541.7" y="44.5" width="37.1" height="17.6" fill="#3aab6b" stroke="#222" stroke-width="0.8"/>
<text font-size="16.75" x="588.3" y="58.6">Albite</text>
<rect x="541.7" y="65.6" width="37.1" height="17.6" fill="#b37ce0" stroke="#222" stroke-width="0.8"/>
<text font-size="16.75" x="588.3" y="79.4">Others</text>
</svg></body></html>
